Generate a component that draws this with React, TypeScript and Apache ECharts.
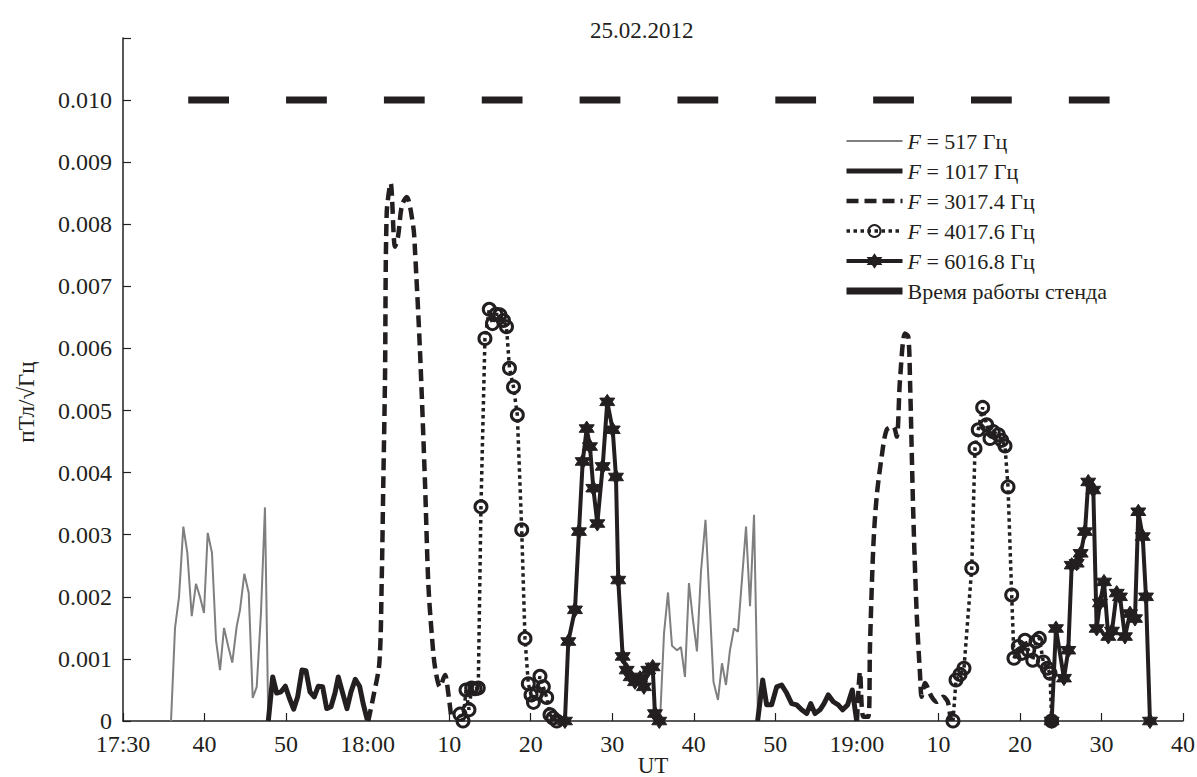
import React, { useEffect, useRef } from "react";
import * as echarts from "echarts";

// x values: minutes after 17:30 UT; y values: pT/sqrt(Hz)
const TITLE = "25.02.2012";
const Y_NAME = "пТл/√Гц";
const X_NAME = "UT";
const X_TICK_LABELS = ["17:30", "40", "50", "18:00", "10", "20", "30", "40", "50", "19:00", "10", "20", "30", "40"];
const GAP: [string, string] = ["-", "-"];

const F517: any[] = [
  [5.89, 0], [6.38, 0.0015], [6.87, 0.002], [7.4, 0.00313], [7.89, 0.00271], [8.43, 0.00169],
  [8.95, 0.00221], [9.44, 0.002], [9.93, 0.00174], [10.39, 0.00303], [10.91, 0.00271], [11.41, 0.0013],
  [11.9, 0.00082], [12.39, 0.0015], [12.91, 0.0012], [13.4, 0.00094], [13.94, 0.00152], [14.35, 0.00179],
  [14.88, 0.00237], [15.42, 0.00206], [15.91, 0.00037], [16.4, 0.00055], [16.92, 0.00174], [17.41, 0.00344],
  [17.82, 0],
  GAP,
  [65.86, 0], [66.35, 0.00141], [66.84, 0.00207], [67.33, 0.00121], [67.94, 0.00114], [68.43, 0.00119],
  [68.92, 0.00071], [69.41, 0.00222], [69.9, 0.00163], [70.39, 0.00112], [70.88, 0.0024], [71.44, 0.00324],
  [72.42, 0.00063], [72.97, 0.00034], [73.46, 0.00093], [73.95, 0.00058], [74.44, 0.00114], [74.93, 0.00149],
  [75.42, 0.00144], [76.41, 0.00313], [76.9, 0.00185], [77.39, 0.00332], [77.88, 0],
];

const F1017: any[] = [
  [17.82, 0], [18.36, 0.00071], [18.85, 0.00045], [19.38, 0.00047], [19.91, 0.00056], [20.4, 0.00037],
  [20.93, 0.00019], [21.42, 0.00039], [21.95, 0.00082], [22.44, 0.00081], [22.93, 0.00047], [23.46, 0.00039],
  [23.95, 0.00056], [24.49, 0.00055], [24.98, 0.0002], [25.51, 0.00023], [26.0, 0.00045], [26.4, 0.00071],
  [26.9, 0.00047], [27.47, 0.0002], [27.96, 0.00047], [28.49, 0.00067], [29.02, 0.00056], [29.47, 0.00027],
  [29.96, 0.00002],
  GAP,
  [77.83, 0], [78.45, 0.00066], [78.94, 0.00026], [79.55, 0.00026], [80.17, 0.00055], [80.78, 0.00058],
  [81.39, 0.00045], [82.01, 0.00028], [82.62, 0.00026], [83.23, 0.00018], [83.85, 0.00012], [84.34, 0.00028],
  [84.87, 0.00012], [85.48, 0.00018], [85.97, 0.00028], [86.5, 0.00042], [87.11, 0.00031], [87.72, 0.00026],
  [88.26, 0.00018], [88.87, 0.00026], [89.44, 0.0005], [89.98, 0],
];

const F3017: any[] = [
  [30.08, 0], [30.7, 0.00039], [31.44, 0.00093], [31.73, 0.00227], [31.93, 0.00388], [32.13, 0.00549],
  [32.34, 0.00818], [32.83, 0.00866], [33.36, 0.00764], [33.73, 0.0078], [34.2, 0.0083], [34.79, 0.00844],
  [35.6, 0.00796], [35.81, 0.00758], [36.42, 0.00597], [37.04, 0.00383], [37.44, 0.00222], [37.86, 0.00141],
  [38.26, 0.00087], [38.88, 0.00055], [39.49, 0.00074], [39.89, 0.00045], [40.31, 0],
  GAP,
  [90.02, 0], [90.39, 0.00079], [90.79, 0.00007], [91.41, 0.00007], [91.61, 0.0012], [92.02, 0.00281],
  [92.43, 0.00361], [93.05, 0.00426], [93.66, 0.00469], [94.47, 0.00474], [94.89, 0.00458], [95.29, 0.00549],
  [95.9, 0.00624], [96.31, 0.00619], [96.52, 0.00549], [96.92, 0.00334], [97.34, 0.00173], [97.74, 0.00077],
  [97.95, 0.00039], [98.36, 0.00061], [99.17, 0.00039], [99.79, 0.00031], [100.6, 0.00039], [101.18, 0.0003],
  [101.5, 0],
];

const F4017: any[] = [
  [41.33, 0.00011], [41.7, 0], [42.07, 0.0005], [42.43, 0.00018], [42.76, 0.00053], [43.17, 0.00052],
  [43.57, 0.00053], [43.9, 0.00345], [44.39, 0.00616], [44.92, 0.00663], [45.31, 0.0064], [45.74, 0.00655],
  [46.23, 0.00654], [46.66, 0.00645], [47.03, 0.00635], [47.4, 0.00568], [47.89, 0.00538], [48.36, 0.00493],
  [48.9, 0.00308], [49.3, 0.00133], [49.71, 0.0006], [50.04, 0.00042], [50.34, 0.0003], [50.74, 0.00045],
  [51.14, 0.00072], [51.55, 0.00055], [51.96, 0.00038], [52.37, 0.0001], [52.73, 0.00005], [53.2, 0],
  GAP,
  [101.79, 0], [102.16, 0.00066], [102.65, 0.00075], [103.14, 0.00085], [104.09, 0.00246], [104.49, 0.00439],
  [104.89, 0.00469], [105.43, 0.00505], [105.92, 0.00477], [106.33, 0.00455], [106.73, 0.00466], [107.35, 0.00461],
  [107.76, 0.00452], [108.17, 0.00443], [108.54, 0.00377], [108.99, 0.00203], [109.27, 0.00101], [109.8, 0.0012],
  [110.22, 0.00109], [110.62, 0.0013], [111.03, 0.00114], [111.57, 0.00098], [111.97, 0.00128], [112.38, 0.00133],
  [112.87, 0.00095], [113.36, 0.00085], [113.69, 0.00077], [113.89, 0],
];

const F6016: any[] = [
  [54.2, 0], [54.61, 0.00128], [55.43, 0.00179], [55.92, 0.00305], [56.38, 0.00418], [56.87, 0.00471],
  [57.27, 0.00442], [57.68, 0.00375], [58.17, 0.00318], [58.83, 0.0041], [59.39, 0.00514], [60.06, 0.00469],
  [60.46, 0.00393], [60.74, 0.00227], [61.28, 0.00104], [61.77, 0.00082], [62.26, 0.00071], [62.79, 0.00063],
  [63.4, 0.00069], [63.89, 0.00055], [64.42, 0.00082], [64.96, 0.00087], [65.24, 0.00012], [65.77, 0],
  GAP,
  [113.89, 0], [114.42, 0.00149], [115.4, 0.00069], [115.93, 0.00114], [116.35, 0.00251], [116.96, 0.00254],
  [117.45, 0.0027], [117.98, 0.00305], [118.38, 0.00385], [119.0, 0.00372], [119.41, 0.00149], [119.82, 0.0019],
  [120.31, 0.00224], [120.84, 0.00136], [121.29, 0.00145], [121.87, 0.00206], [122.27, 0.002], [122.88, 0.00136],
  [123.5, 0.00173], [124.11, 0.00165], [124.52, 0.00337], [125.06, 0.00297], [125.46, 0.002], [125.95, 0],
];

// stand operation periods (minutes after 17:30)
const STAND_ON = [8, 20, 32, 44, 56, 68, 80, 92, 104, 116];
const STAND_OFF = [13, 25, 37, 49, 61, 73, 85, 97, 109, 121];
const STAND_LEVEL = 0.01;

const NAMES = ["F = 517 Гц", "F = 1017 Гц", "F = 3017.4 Гц", "F = 4017.6 Гц", "F = 6016.8 Гц", "Время работы стенда"];

const FONT = "'Liberation Serif', 'DejaVu Serif', 'Times New Roman', serif";
const INK = "#231f20";
const STAR = "path://M10 0L12.89 5L18.66 5L15.77 10L18.66 15L12.89 15L10 20L7.11 15L1.34 15L4.23 10L1.34 5L7.11 5Z";
const HIDDEN_SYMBOL = { color: "rgba(0,0,0,0)", borderWidth: 0, opacity: 0 };

export default function App() {
  const ref = useRef<HTMLDivElement>(null);
  useEffect(() => {
    if (!ref.current) return;
    const chart = echarts.init(ref.current, null, { renderer: "svg", width: 1197, height: 777 });
    const standData: any[] = [];
    STAND_ON.forEach((s, i) => {
      standData.push([s, STAND_LEVEL], [STAND_OFF[i], STAND_LEVEL], GAP);
    });
    chart.setOption({
      animation: false,
      backgroundColor: "#ffffff",
      title: {
        text: TITLE,
        left: 585,
        top: 14,
        textStyle: { fontFamily: FONT, fontSize: 23, fontWeight: "normal", color: INK },
      },
      graphic: [
        {
          type: "text",
          x: 26,
          y: 402,
          rotation: Math.PI / 2,
          style: {
            text: Y_NAME,
            fontFamily: FONT,
            fontSize: 23,
            fill: INK,
            textAlign: "center",
            textVerticalAlign: "middle",
          },
        },
      ],
      grid: {
        left: 123,
        right: 14,
        top: 38,
        bottom: 56,
        containLabel: false,
        outerBoundsMode: "none",
      },
      legend: {
        orient: "vertical",
        left: 838,
        top: 125,
        itemWidth: 56,
        itemHeight: 15,
        itemGap: 8,
        data: [
          { name: NAMES[0], itemStyle: HIDDEN_SYMBOL },
          { name: NAMES[1], itemStyle: HIDDEN_SYMBOL },
          { name: NAMES[2], itemStyle: HIDDEN_SYMBOL },
          { name: NAMES[3] },
          { name: NAMES[4] },
          { name: NAMES[5], itemStyle: HIDDEN_SYMBOL },
        ],
        lineStyle: { width: "inherit" },
        formatter: (name: string) =>
          name.startsWith("F") ? "{i|F}{t|" + name.slice(1) + "}" : "{t|" + name + "}",
        textStyle: {
          color: INK,
          fontFamily: FONT,
          fontSize: 22,
          rich: {
            i: { fontFamily: FONT, fontSize: 22, fontStyle: "italic", color: INK, lineHeight: 23 },
            t: { fontFamily: FONT, fontSize: 22, color: INK, lineHeight: 23 },
          },
        },
      },
      xAxis: {
        type: "value",
        min: 0,
        max: 130,
        interval: 10,
        name: X_NAME,
        nameLocation: "middle",
        nameGap: 34,
        nameMoveOverlap: false,
        nameTextStyle: { fontFamily: FONT, fontSize: 23, lineHeight: 20, color: INK },
        axisLine: { lineStyle: { color: INK, width: 1.5 } },
        axisTick: { inside: true, length: 8, lineStyle: { color: INK, width: 1.2 } },
        splitLine: { show: false },
        axisLabel: {
          margin: 13,
          fontFamily: FONT,
          fontSize: 24,
          lineHeight: 20,
          color: INK,
          formatter: (v: number) => X_TICK_LABELS[Math.round(v / 10)] ?? "",
        },
      },
      yAxis: {
        type: "value",
        min: 0,
        max: 0.011,
        interval: 0.001,
        axisLine: { show: true, lineStyle: { color: INK, width: 1.5 } },
        axisTick: { show: true, inside: true, length: 8, lineStyle: { color: INK, width: 1.2 } },
        splitLine: { show: false },
        axisLabel: {
          margin: 11,
          fontFamily: FONT,
          fontSize: 24,
          lineHeight: 16,
          color: INK,
          formatter: (v: number) => (v > 0.0105 ? "" : v === 0 ? "0" : v.toFixed(3)),
        },
      },
      series: [
        {
          name: NAMES[0],
          type: "line",
          data: F517,
          symbol: "none",
          lineStyle: { color: "#7f7f7f", width: 2 },
          itemStyle: { color: "#7f7f7f" },
          z: 2,
        },
        {
          name: NAMES[1],
          type: "line",
          data: F1017,
          symbol: "none",
          lineStyle: { color: INK, width: 5, join: "round" },
          itemStyle: { color: INK },
          z: 3,
        },
        {
          name: NAMES[2],
          type: "line",
          data: F3017,
          symbol: "none",
          smooth: 0.3,
          lineStyle: { color: INK, width: 4.5, type: [12, 6] },
          itemStyle: { color: INK },
          z: 3,
        },
        {
          name: NAMES[3],
          type: "line",
          data: F4017,
          symbol: "circle",
          symbolSize: 12,
          showSymbol: true,
          lineStyle: { color: INK, width: 3.5, type: [3.5, 3.5] },
          itemStyle: { color: "rgba(255,255,255,0)", borderColor: INK, borderWidth: 3 },
          z: 4,
        },
        {
          name: NAMES[4],
          type: "line",
          data: F6016,
          symbol: STAR,
          symbolSize: 15,
          showSymbol: true,
          lineStyle: { color: INK, width: 4, join: "round" },
          itemStyle: { color: INK, borderColor: INK, borderWidth: 1 },
          z: 5,
        },
        {
          name: NAMES[5],
          type: "line",
          data: standData,
          symbol: "none",
          lineStyle: { color: INK, width: 7, cap: "butt" },
          itemStyle: { color: INK },
          z: 3,
        },
      ],
    });
    return () => chart.dispose();
  }, []);
  return (
    <div
      ref={ref}
      style={{ position: "fixed", left: 0, top: 0, width: 1197, height: 777, background: "#fff" }}
    />
  );
}
